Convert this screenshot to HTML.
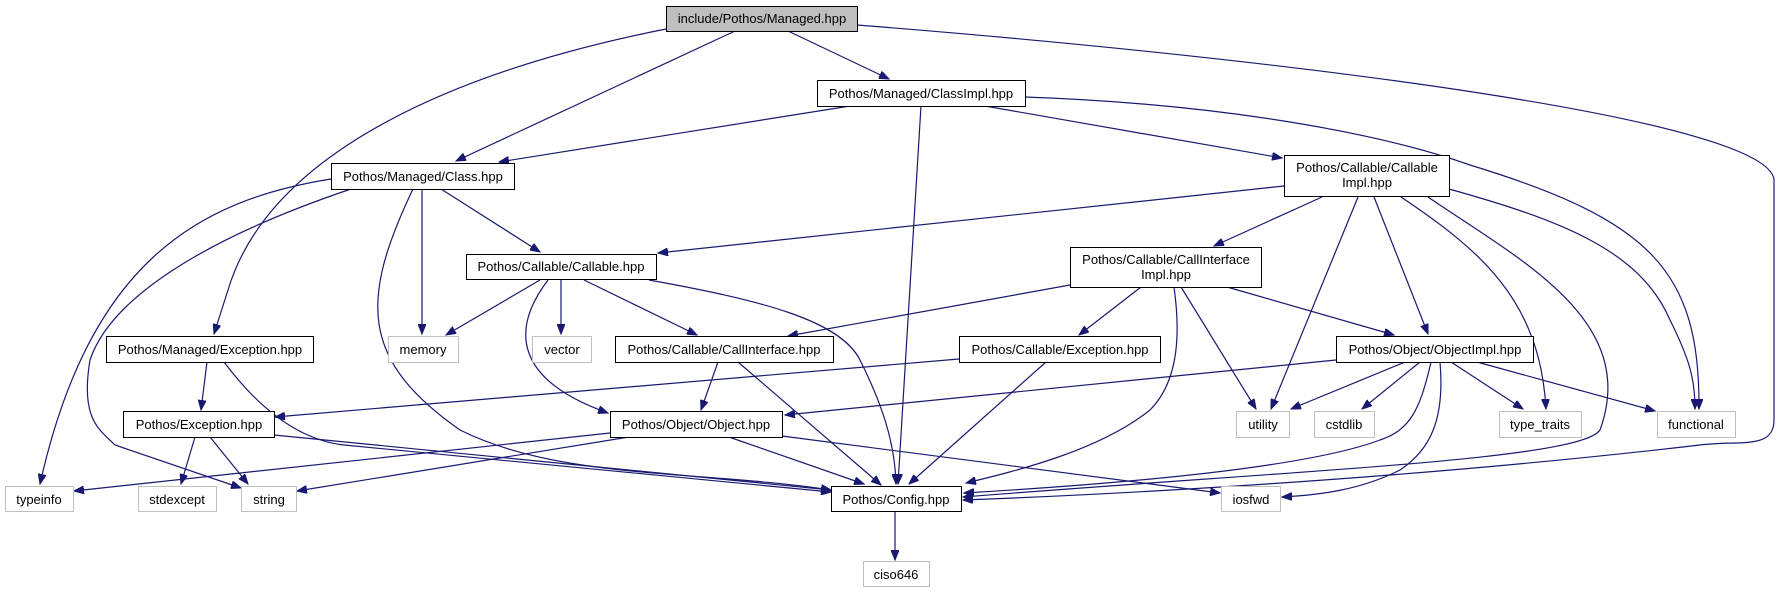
<!DOCTYPE html>
<html><head><meta charset="utf-8"><style>
html,body{margin:0;padding:0;background:#fff;}
svg{display:block;}
text{font-family:"Liberation Sans",sans-serif;font-size:13px;fill:#000;}
</style></head><body>
<svg width="1783" height="592" viewBox="0 0 1783 592" xmlns="http://www.w3.org/2000/svg">
<defs>
<marker id="a" markerWidth="11" markerHeight="8" refX="10" refY="4" orient="auto" markerUnits="userSpaceOnUse">
<path d="M0,0 L10,4 L0,8 Z" fill="#191970" stroke="#191970"/>
</marker>
</defs>
<g fill="none" stroke="#191970" stroke-width="1.2" marker-end="url(#a)">
<path d="M788,31 L889,79"/>
<path d="M735,31 L456,161"/>
<path d="M666,29 C460,70 270,150 228,290 L214,334"/>
<path d="M857,25 C1300,60 1770,120 1774,180 L1774,420 C1774,450 1740,440 1700,445 C1400,480 1100,495 963,500"/>
<path d="M850,106 L499,162"/>
<path d="M921,106 L898,484"/>
<path d="M985,106 L1282,158"/>
<path d="M1025,97 C1250,105 1400,140 1470,165 C1650,220 1700,270 1699,409"/>
<path d="M1284,186 L658,253"/>
<path d="M1322,197 L1214,246"/>
<path d="M1358,197 L1271,409"/>
<path d="M1374,197 L1428,334"/>
<path d="M1401,197 C1480,250 1540,300 1546,409"/>
<path d="M1428,197 C1520,260 1640,320 1600,430 C1580,460 1300,470 963,497"/>
<path d="M1449,189 C1560,220 1640,250 1670,320 C1690,360 1695,380 1695,409"/>
<path d="M331,179 C200,200 90,260 40,484"/>
<path d="M351,189 C200,240 110,300 90,360 C80,420 100,430 115,445 L241,488"/>
<path d="M413,189 C360,300 360,360 460,430 C560,480 700,470 831,490"/>
<path d="M422,189 L422,334"/>
<path d="M441,189 L540,252"/>
<path d="M540,280 L446,335"/>
<path d="M561,280 L561,334"/>
<path d="M548,280 C510,330 515,380 608,413"/>
<path d="M584,280 L697,335"/>
<path d="M649,280 C760,300 840,320 860,360 C880,400 895,440 896,484"/>
<path d="M1070,285 L788,336"/>
<path d="M1141,287 L1079,335"/>
<path d="M1174,287 C1180,330 1180,380 1150,410 C1100,450 1020,470 966,483"/>
<path d="M1181,287 L1256,409"/>
<path d="M1227,287 L1394,335"/>
<path d="M207,362 L201,410"/>
<path d="M224,362 C260,410 300,440 344,445 L831,492"/>
<path d="M718,362 L701,410"/>
<path d="M738,362 L881,485"/>
<path d="M959,359 L275,417"/>
<path d="M1046,362 L909,484"/>
<path d="M1336,360 L785,415"/>
<path d="M1405,362 L1291,409"/>
<path d="M1420,362 L1362,409"/>
<path d="M1451,362 L1523,409"/>
<path d="M1477,362 L1655,411"/>
<path d="M1431,362 C1420,410 1410,430 1380,440 C1300,470 1100,485 964,493"/>
<path d="M1440,362 C1445,420 1430,450 1400,470 C1360,490 1320,495 1282,497"/>
<path d="M195,437 L181,484"/>
<path d="M210,437 L248,484"/>
<path d="M274,435 L831,490"/>
<path d="M610,433 L74,491"/>
<path d="M629,437 L297,491"/>
<path d="M729,437 L864,484"/>
<path d="M782,436 L1220,493"/>
<path d="M895,511 L895,560"/>
</g>
<g stroke-width="1">
<rect x="666.5" y="6.5" width="191" height="25" fill="#bfbfbf" stroke="#000"/>
<g fill="#fff" stroke="#000">
<rect x="817.5" y="80.5" width="208" height="26"/>
<rect x="331.5" y="163.5" width="183" height="26"/>
<rect x="1284.5" y="155.5" width="165" height="41"/>
<rect x="466.5" y="254.5" width="190" height="25"/>
<rect x="1070.5" y="247.5" width="191" height="40"/>
<rect x="106.5" y="336.5" width="207" height="26"/>
<rect x="615.5" y="336.5" width="218" height="26"/>
<rect x="959.5" y="336.5" width="201" height="26"/>
<rect x="1336.5" y="336.5" width="197" height="26"/>
<rect x="123.5" y="411.5" width="151" height="26"/>
<rect x="610.5" y="411.5" width="172" height="26"/>
<rect x="831.5" y="486.5" width="130" height="25"/>
</g>
<g fill="#fff" stroke="#bfbfbf">
<rect x="388.5" y="336.5" width="70" height="26"/>
<rect x="532.5" y="336.5" width="59" height="26"/>
<rect x="1236.5" y="411.5" width="53" height="26"/>
<rect x="1314.5" y="411.5" width="60" height="26"/>
<rect x="1499.5" y="411.5" width="82" height="26"/>
<rect x="1657.5" y="411.5" width="78" height="26"/>
<rect x="5.5" y="486.5" width="68" height="25"/>
<rect x="138.5" y="486.5" width="78" height="25"/>
<rect x="241.5" y="486.5" width="55" height="25"/>
<rect x="1221.5" y="486.5" width="59" height="25"/>
<rect x="863.5" y="561.5" width="66" height="25"/>
</g>
</g>
<g text-anchor="middle">
<text x="762" y="23">include/Pothos/Managed.hpp</text>
<text x="921" y="98">Pothos/Managed/ClassImpl.hpp</text>
<text x="423" y="181">Pothos/Managed/Class.hpp</text>
<text x="1367" y="172">Pothos/Callable/Callable</text>
<text x="1367" y="187">Impl.hpp</text>
<text x="561" y="271">Pothos/Callable/Callable.hpp</text>
<text x="1166" y="264">Pothos/Callable/CallInterface</text>
<text x="1166" y="279">Impl.hpp</text>
<text x="210" y="354">Pothos/Managed/Exception.hpp</text>
<text x="724" y="354">Pothos/Callable/CallInterface.hpp</text>
<text x="1060" y="354">Pothos/Callable/Exception.hpp</text>
<text x="1435" y="354">Pothos/Object/ObjectImpl.hpp</text>
<text x="199" y="429">Pothos/Exception.hpp</text>
<text x="696" y="429">Pothos/Object/Object.hpp</text>
<text x="896" y="504">Pothos/Config.hpp</text>
<text x="423" y="354">memory</text>
<text x="562" y="354">vector</text>
<text x="1263" y="429">utility</text>
<text x="1344" y="429">cstdlib</text>
<text x="1540" y="429">type_traits</text>
<text x="1696" y="429">functional</text>
<text x="39" y="504">typeinfo</text>
<text x="177" y="504">stdexcept</text>
<text x="269" y="504">string</text>
<text x="1251" y="504">iosfwd</text>
<text x="896" y="579">ciso646</text>
</g>
</svg>
</body></html>
